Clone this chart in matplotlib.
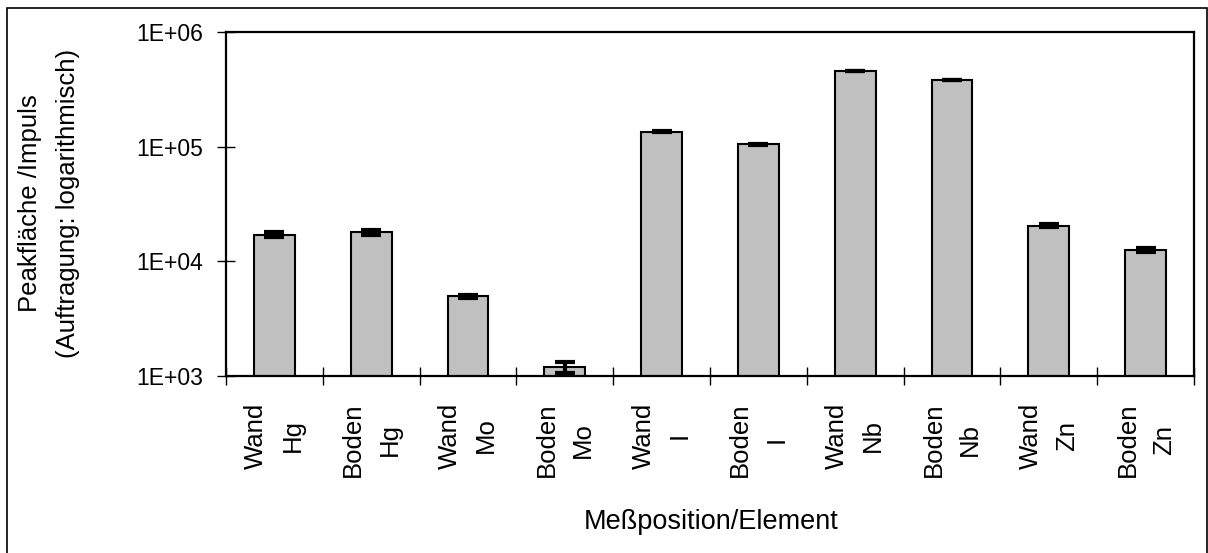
import matplotlib
matplotlib.use('Agg')
import matplotlib.pyplot as plt
from matplotlib.patches import Rectangle
from matplotlib.ticker import FixedLocator, NullFormatter

plt.rcParams['font.family'] = ['Liberation Sans', 'DejaVu Sans']

# values
positions = ['Wand', 'Boden', 'Wand', 'Boden', 'Wand', 'Boden', 'Wand', 'Boden', 'Wand', 'Boden']
elements = ['Hg', 'Hg', 'Mo', 'Mo', 'I', 'I', 'Nb', 'Nb', 'Zn', 'Zn']
peaks = [17070, 17920, 4985, 1205, 135000, 104800, 457000, 381000, 20460, 12640]
err_low = [870, 900, 150, 149, 800, 600, 2800, 2000, 530, 470]
err_high = [870, 900, 150, 128, 800, 600, 2800, 2000, 530, 470]
ytick_vals = [1e3, 1e4, 1e5, 1e6]
ytick_labels = ['1E+03', '1E+04', '1E+05', '1E+06']

labels = [p + '\n' + e for p, e in zip(positions, elements)]
x = list(range(len(peaks)))

fig = plt.figure(figsize=(12.08, 5.53), dpi=100, facecolor='white')
ax = fig.add_axes([226/1208, (553-376)/553, 968/1208, 344/553])

ax.bar(x, peaks, width=0.42, color='#c0c0c0', edgecolor='black', linewidth=1.5, zorder=2)
ax.errorbar(x, peaks, yerr=[err_low, err_high], fmt='none', ecolor='black',
            elinewidth=3, capsize=7, capthick=3, zorder=3)

ax.set_yscale('log')
ax.set_ylim(1e3, 1e6)
ax.set_xlim(-0.5, len(peaks) - 0.5)

ax.yaxis.set_major_locator(FixedLocator(ytick_vals))
ax.set_yticklabels(ytick_labels)
ax.yaxis.set_minor_locator(FixedLocator([]))
ax.tick_params(axis='y', which='major', direction='inout', length=13, width=1,
               labelsize=16.5, pad=10)

ax.set_xticks(x)
ax.set_xticklabels(labels, rotation=90, fontsize=18.5, linespacing=1.65,
                   va='top', ha='center', multialignment='center')
ax.tick_params(axis='x', which='major', length=0, pad=19)
ax.xaxis.set_minor_locator(FixedLocator([i - 0.5 for i in range(len(peaks) + 1)]))
ax.xaxis.set_minor_formatter(NullFormatter())
ax.tick_params(axis='x', which='minor', direction='inout', length=13, width=1)

for s in ax.spines.values():
    s.set_linewidth(1.6)

fig.text(30/1208, 1 - 203/553, 'Peakfläche /Impuls', rotation=90, fontsize=18.5,
         ha='center', va='center')
fig.text(68/1208, 1 - 203/553, '(Auftragung: logarithmisch)', rotation=90, fontsize=18.5,
         ha='center', va='center')
fig.text(711/1208, 1 - 522/553, 'Meßposition/Element', fontsize=19.5,
         ha='center', va='center')

# outer chart frame
fig.patches.append(Rectangle((7/1208, -0.05), 1200/1208, 1.05 - 8/553,
                             transform=fig.transFigure, fill=False,
                             edgecolor='black', linewidth=1.2))

fig.savefig('out.png', dpi=100, facecolor='white')
